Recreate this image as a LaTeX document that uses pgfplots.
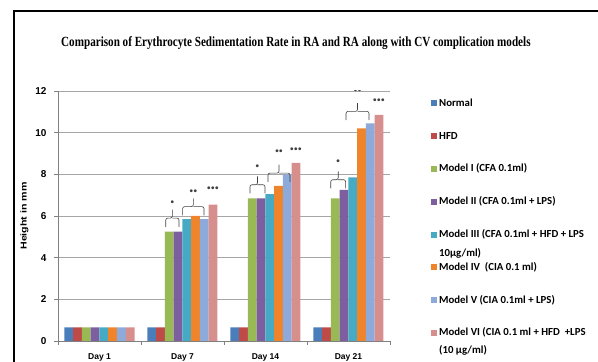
\documentclass[border=0pt]{standalone}
\usepackage{pgfplots}
\pgfplotsset{compat=1.18}
\usepackage{fontspec}
\setmainfont{Carlito}
\newfontfamily\titlefont[FakeStretch=0.795]{Liberation Serif}
\newfontfamily\arialfont{Liberation Sans}
\definecolor{cNormal}{HTML}{4A7EBB}
\definecolor{cHFD}{HTML}{BE4B48}
\definecolor{cMI}{HTML}{98B954}
\definecolor{cMII}{HTML}{7D5FA0}
\definecolor{cMIII}{HTML}{46AAC5}
\definecolor{cMIV}{HTML}{F0842A}
\definecolor{cMV}{HTML}{8EAADB}
\definecolor{cMVI}{HTML}{D68F8D}
% significance brace: x1, x2, y bottom, y label, label
\newcommand\sigbrace[5]{%
  \draw[rounded corners=2pt] (axis cs:#1,#3) |- (axis cs:{(#1+#2)/2},#3+0.42) -- (axis cs:{(#1+#2)/2},#3+0.82);
  \draw[rounded corners=2pt] (axis cs:#2,#3) |- (axis cs:{(#1+#2)/2},#3+0.42);
  \node[font=\fontsize{8}{8}\selectfont, inner sep=0pt] at (axis cs:{(#1+#2)/2},#4) {#5};}
\begin{document}
\begin{tikzpicture}
\useasboundingbox (0pt,0pt) rectangle (598pt,362pt);
% frame
\draw[line width=2pt] (14pt,0pt) -- (14pt,351pt) -- (600pt,351pt);
% title
\node[font=\titlefont\bfseries\fontsize{14}{16}\selectfont, anchor=west, inner sep=0pt] at (61pt,319pt)
 {Comparison of Erythrocyte Sedimentation Rate in RA and RA along with CV complication models};
\begin{axis}[
  at={(58pt,21pt)}, anchor=south west,
  scale only axis, width=332pt, height=250pt,
  ybar=0pt, bar width=8.75pt,
  xmin=-0.5, xmax=3.5, ymin=0, ymax=12,
  xtick={0,1,2,3}, xticklabels={Day 1,Day 7,Day 14,Day 21},
  minor xtick={-0.5,0.5,1.5,2.5,3.5},
  ytick={0,2,4,6,8,10,12},
  axis x line*=bottom, axis y line*=left,
  axis line style={gray, line width=0.8pt, -},
  tick style={gray, line width=0.8pt},
  major x tick style={draw=none},
  tick align=outside, major tick length=4pt, minor tick length=4pt,
  ymajorgrids, grid style={gray!70, line width=0.8pt},
  /pgf/number format/assume math mode=true,
  yticklabel style={font=\arialfont\bfseries\fontsize{10}{12}\selectfont, xshift=-4pt},
  xticklabel style={font=\arialfont\bfseries\fontsize{8.5}{10}\selectfont, yshift=-5pt},
  ylabel={\scalebox{1.25}[1]{Height in mm}},
  ylabel style={font=\arialfont\bfseries\fontsize{8.5}{10}\selectfont},
  legend style={at={(1.1235,0.980)}, anchor=north west, draw=none, fill=none,
    inner sep=0pt, row sep=18.3pt,
    font=\bfseries\fontsize{10.8}{13}\selectfont,
    nodes={text height=8pt, text depth=2.5pt, inner sep=2pt}},
  legend cell align=left,
  legend image code/.code={\fill[#1] (0pt,-3pt) rectangle (6pt,3pt);},
  every axis plot/.append style={draw=none},
]
\addplot[fill=cNormal] coordinates {(0,0.65) (1,0.65) (2,0.65) (3,0.65)};
\addplot[fill=cHFD] coordinates {(0,0.65) (1,0.65) (2,0.65) (3,0.65)};
\addplot[fill=cMI] coordinates {(0,0.65) (1,5.25) (2,6.85) (3,6.85)};
\addplot[fill=cMII] coordinates {(0,0.65) (1,5.25) (2,6.85) (3,7.25)};
\addplot[fill=cMIII] coordinates {(0,0.65) (1,5.85) (2,7.05) (3,7.85)};
\addplot[fill=cMIV] coordinates {(0,0.65) (1,6.0) (2,7.45) (3,10.2)};
\addplot[fill=cMV] coordinates {(0,0.65) (1,5.85) (2,8.0) (3,10.45)};
\addplot[fill=cMVI] coordinates {(0,0.65) (1,6.55) (2,8.55) (3,10.85)};
\legend{Normal, HFD, Model I (CFA 0.1ml), Model II (CFA 0.1ml + LPS),
 {\smash{\parbox[t]{6cm}{Model III (CFA 0.1ml + HFD + LPS\\[6pt]10µg/ml)}}},
 {Model IV\ \ (CIA 0.1 ml)}, Model V (CIA 0.1ml + LPS),
 {\smash{\parbox[t]{6cm}{Model VI (CIA 0.1 ml + HFD\ \ +LPS\\[4.7pt](10 µg/ml)}}}}
% significance braces
\begin{scope}[line width=0.6pt, black!75]
\sigbrace{0.798}{0.958}{5.48}{6.63}{•}
\sigbrace{1.002}{1.259}{6.03}{7.19}{••}
\node[font=\fontsize{8}{8}\selectfont, inner sep=0pt] at (axis cs:1.367,7.3) {•••};
\sigbrace{1.813}{1.994}{7.08}{8.39}{•}
\sigbrace{2.03}{2.295}{7.64}{9.1}{••}
\node[font=\fontsize{8}{8}\selectfont, inner sep=0pt] at (axis cs:2.367,9.2) {•••};
\sigbrace{2.786}{2.966}{7.32}{8.6}{•}
\sigbrace{2.97}{3.247}{10.6}{12.03}{••}
\node[font=\fontsize{8}{8}\selectfont, inner sep=0pt] at (axis cs:3.367,11.52) {•••};
\end{scope}
\end{axis}
\end{tikzpicture}
\end{document}
